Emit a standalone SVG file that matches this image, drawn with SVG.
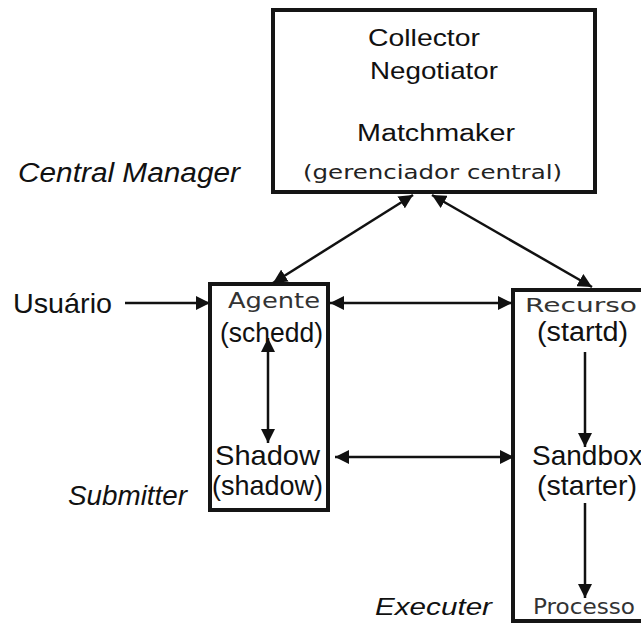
<svg xmlns="http://www.w3.org/2000/svg" width="641" height="623" viewBox="0 0 641 623">
<style>
.box{fill:#fff;stroke:#151515;stroke-width:4}
.a{font-family:"Liberation Sans",Arial,sans-serif;fill:#111}
.d{font-family:"DejaVu Sans",sans-serif;fill:#333}
.i{font-family:"Liberation Sans",Arial,sans-serif;font-style:italic;fill:#111}
.c{stroke:#111;stroke-width:2.5;fill:none}
</style>
<defs>
<marker id="ah" viewBox="0 0 14 14" refX="14" refY="7" markerWidth="14" markerHeight="14" markerUnits="userSpaceOnUse" orient="auto-start-reverse">
<path d="M0,0 L14,7 L0,14 z" fill="#111"/>
</marker>
</defs>
<rect width="641" height="623" fill="#fff"/>
<g id="central">
<rect class="box" x="273" y="10" width="322" height="182"/>
<text class="a" x="368" y="46" font-size="24" textLength="112" lengthAdjust="spacingAndGlyphs">Collector</text>
<text class="a" x="370" y="79" font-size="24" textLength="128" lengthAdjust="spacingAndGlyphs">Negotiator</text>
<text class="a" x="357" y="141" font-size="23" textLength="158" lengthAdjust="spacingAndGlyphs">Matchmaker</text>
<text class="d" x="303" y="179" font-size="20" textLength="259" lengthAdjust="spacingAndGlyphs" style="fill:#222">(gerenciador central)</text>
</g>
<g id="agente">
<rect class="box" x="210" y="284" width="118" height="226"/>
<text class="d" x="228" y="308" font-size="21" textLength="92" lengthAdjust="spacingAndGlyphs">Agente</text>
<text class="a" x="220" y="342" font-size="27" textLength="103" lengthAdjust="spacingAndGlyphs">(schedd)</text>
<text class="a" x="215" y="465" font-size="28" textLength="105" lengthAdjust="spacingAndGlyphs">Shadow</text>
<text class="a" x="212" y="495" font-size="28" textLength="111" lengthAdjust="spacingAndGlyphs">(shadow)</text>
</g>
<g id="recurso">
<rect class="box" x="513" y="290" width="140" height="331"/>
<text class="d" x="525" y="312" font-size="20" textLength="112" lengthAdjust="spacingAndGlyphs">Recurso</text>
<text class="a" x="537" y="341" font-size="27" textLength="91" lengthAdjust="spacingAndGlyphs">(startd)</text>
<text class="a" x="532" y="465" font-size="28">Sandbox</text>
<text class="a" x="537" y="495" font-size="28" textLength="100" lengthAdjust="spacingAndGlyphs">(starter)</text>
<text class="d" x="533" y="614" font-size="21" textLength="102" lengthAdjust="spacingAndGlyphs">Processo</text>
</g>
<g id="labels">
<text class="i" x="18" y="182" font-size="27" textLength="222" lengthAdjust="spacingAndGlyphs">Central Manager</text>
<text class="a" x="13" y="313" font-size="28" textLength="99" lengthAdjust="spacingAndGlyphs">Usuário</text>
<text class="i" x="68" y="505" font-size="27" textLength="119" lengthAdjust="spacingAndGlyphs">Submitter</text>
<text class="i" x="375" y="615" font-size="24" textLength="117" lengthAdjust="spacingAndGlyphs">Executer</text>
</g>
<g id="connectors">
<line class="c" x1="413" y1="195" x2="273" y2="283" marker-start="url(#ah)" marker-end="url(#ah)"/>
<line class="c" x1="432" y1="195" x2="592" y2="287" marker-start="url(#ah)" marker-end="url(#ah)"/>
<line class="c" x1="125" y1="303" x2="210" y2="303" marker-end="url(#ah)"/>
<line class="c" x1="330" y1="303" x2="512" y2="303" marker-start="url(#ah)" marker-end="url(#ah)"/>
<line class="c" x1="268" y1="338" x2="268" y2="443" marker-start="url(#ah)" marker-end="url(#ah)"/>
<line class="c" x1="335" y1="457" x2="514" y2="457" marker-start="url(#ah)" marker-end="url(#ah)"/>
<line class="c" x1="585" y1="352" x2="585" y2="447" marker-end="url(#ah)"/>
<line class="c" x1="585" y1="503" x2="585" y2="598" marker-end="url(#ah)"/>
</g>
</svg>
